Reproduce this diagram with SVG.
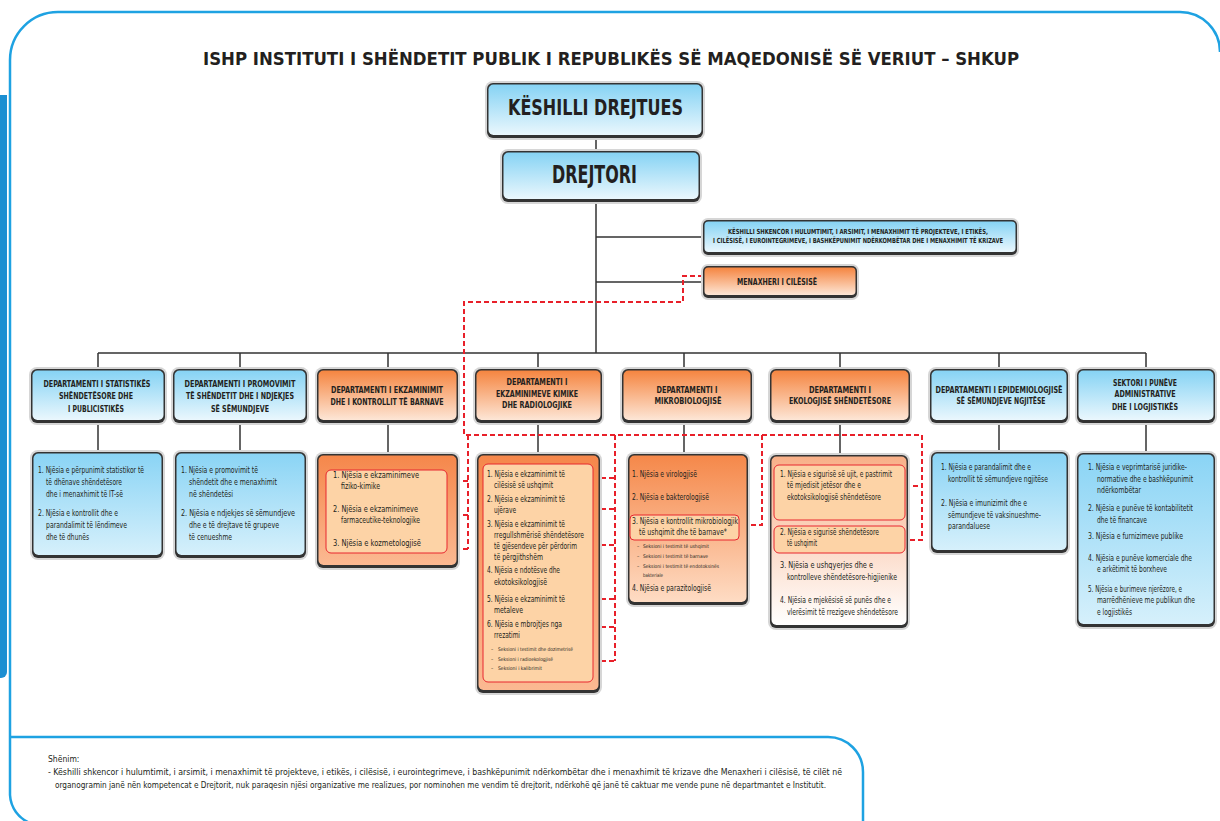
<svg xmlns="http://www.w3.org/2000/svg" width="1220" height="821" viewBox="0 0 1220 821">
<defs>
<linearGradient id="gB" x1="0" y1="0" x2="0" y2="1"><stop offset="0" stop-color="#86d3f4"/><stop offset="1" stop-color="#eaf7fd"/></linearGradient>
<linearGradient id="gBs" x1="0" y1="0" x2="0" y2="1"><stop offset="0" stop-color="#8ad4f5"/><stop offset="1" stop-color="#d6f0fb"/></linearGradient>
<linearGradient id="gO" x1="0" y1="0" x2="0" y2="1"><stop offset="0" stop-color="#f58540"/><stop offset="1" stop-color="#fde6d6"/></linearGradient>
<linearGradient id="gO2" x1="0" y1="0" x2="0" y2="1"><stop offset="0" stop-color="#f5874b"/><stop offset="1" stop-color="#fbb992"/></linearGradient>
<linearGradient id="gO3" x1="0" y1="0" x2="0" y2="1"><stop offset="0" stop-color="#f5884a"/><stop offset="1" stop-color="#fedcc4"/></linearGradient>
<linearGradient id="gO4" x1="0" y1="0" x2="0" y2="1"><stop offset="0" stop-color="#f8b088"/><stop offset="1" stop-color="#ffffff"/></linearGradient>
</defs>
<style>
.t{font-family:"Liberation Sans Narrow","DejaVu Sans Condensed","Liberation Sans",sans-serif;fill:#231f20}
.b{font-weight:bold}
.h{font-size:9px;font-weight:bold;text-anchor:middle}
.s{font-size:8.5px}
.x{font-size:5px}
.n{font-size:8.5px}
.glow{fill:#d6d6d6}
.dk{fill:#333}
.in{fill:#fdd3a6;stroke:#e8262f;stroke-width:1}
.ln{stroke:#333;stroke-width:1.5;fill:none}
.rd{stroke:#e8202a;stroke-width:2;fill:none;stroke-dasharray:5 3}
.fr{stroke:#1ea2e2;stroke-width:2.5;fill:none}
</style>
<rect width="1220" height="821" fill="#fff"/>
<g id="frame">
<path class="fr" d="M10,795 V60 A48,48 0 0 1 58,12 H1180 A40,40 0 0 1 1220,52"/>
<path class="fr" d="M10,795 A32,32 0 0 0 30,823"/>
<path class="fr" d="M10,737 H828 A35,35 0 0 1 863,772 V823"/>
<path d="M0,95 H7 V672 A6,6 0 0 1 1,678 H0 Z" fill="#1b8fd2"/>
</g>
<text class="t b" x="203" y="65" font-size="17" textLength="816" lengthAdjust="spacingAndGlyphs">ISHP INSTITUTI I SHËNDETIT PUBLIK I REPUBLIKËS SË MAQEDONISË SË VERIUT – SHKUP</text>

<g id="connectors">
<path class="ln" d="M596,138 V151 M596,202 V353 M596,237 H703 M596,282 H703 M98,353 H1146"/>
<path class="ln" d="M98,353 V369 M240,353 V369 M388,353 V370 M538,353 V370 M684,353 V370 M840,353 V370 M999,353 V370 M1146,353 V370"/>
<path class="ln" d="M98,423 V452 M240,423 V452 M388,423 V454 M538,423 V454 M684,423 V454 M840,423 V455 M999,423 V452 M1146,423 V453"/>
<path class="rd" d="M703,276 H683 V302 H464 V435 H922 V540 H905"/>
<path class="rd" d="M905,486 H922 M762,435 V525 H739 M615,435 V661"/>
<path class="rd" d="M593,478 H615 M593,509 H615 M593,545 H615 M593,599 H615 M593,627 H615 M593,661 H615"/>
<path class="rd" d="M468,435 V549 M447,481 H468 M447,515 H468 M447,549 H468"/>
</g>

<g id="keshilli-drejtues">
<rect class="glow" x="485" y="81" width="220" height="59" rx="8"/>
<rect class="dk" x="487" y="83" width="216" height="55" rx="6"/>
<rect fill="url(#gB)" x="488.5" y="84.5" width="213" height="50.5" rx="5"/>
<text class="t b" x="508" y="115" font-size="21" textLength="175" lengthAdjust="spacingAndGlyphs">KËSHILLI DREJTUES</text>
</g>
<g id="drejtori">
<rect class="glow" x="500" y="149" width="202" height="55" rx="8"/>
<rect class="dk" x="502" y="151" width="198" height="51" rx="6"/>
<rect fill="url(#gB)" x="503.5" y="152.5" width="195" height="46.5" rx="5"/>
<text class="t b" x="552" y="183" font-size="24" textLength="85" lengthAdjust="spacingAndGlyphs">DREJTORI</text>
</g>
<g id="keshilli-shkencor">
<rect class="glow" x="701" y="218" width="318" height="39" rx="7"/>
<rect class="dk" x="703" y="220" width="314" height="35" rx="5"/>
<rect fill="url(#gB)" x="704.5" y="221.5" width="311" height="30.5" rx="4"/>
<text class="t b" x="728" y="234" font-size="7" textLength="260" lengthAdjust="spacingAndGlyphs">KËSHILLI SHKENCOR I HULUMTIMIT, I ARSIMIT, I MENAXHIMIT TË PROJEKTEVE, I ETIKËS,</text>
<text class="t b" x="713" y="243" font-size="7" textLength="290" lengthAdjust="spacingAndGlyphs">I CILËSISË, I EUROINTEGRIMEVE, I BASHKËPUNIMIT NDËRKOMBËTAR DHE I MENAXHIMIT TË KRIZAVE</text>
</g>
<g id="menaxheri">
<rect class="glow" x="701" y="264" width="158" height="36" rx="7"/>
<rect class="dk" x="703" y="266" width="154" height="32" rx="5"/>
<rect fill="url(#gO)" x="704.5" y="267.5" width="151" height="27.5" rx="4"/>
<text class="t b" x="737" y="285" font-size="8.5" textLength="80" lengthAdjust="spacingAndGlyphs">MENAXHERI I CILËSISË</text>
</g>

<g id="dept1">
<rect class="glow" x="29" y="367" width="138" height="58" rx="8"/>
<rect class="dk" x="31" y="369" width="134" height="54" rx="6"/>
<rect fill="url(#gB)" x="32.5" y="370.5" width="131" height="49.5" rx="5"/>
<text class="t h" x="97" y="387" textLength="107" lengthAdjust="spacingAndGlyphs">DEPARTAMENTI I STATISTIKËS</text>
<text class="t h" x="96" y="399" textLength="74" lengthAdjust="spacingAndGlyphs">SHËNDETËSORE DHE</text>
<text class="t h" x="96" y="412" textLength="56" lengthAdjust="spacingAndGlyphs">I PUBLICISTIKËS</text>
</g>
<g id="dept1-units">
<rect class="glow" x="30" y="450" width="135" height="110" rx="8"/>
<rect class="dk" x="32" y="452" width="131" height="106" rx="6"/>
<rect fill="url(#gBs)" x="33.5" y="453.5" width="128" height="101.5" rx="5"/>
<text class="t s" x="38" y="473" textLength="106" lengthAdjust="spacingAndGlyphs">1. Njësia e përpunimit statistikor të</text>
<text class="t s" x="46" y="485" textLength="76" lengthAdjust="spacingAndGlyphs">të dhënave shëndetësore</text>
<text class="t s" x="46" y="497" textLength="77" lengthAdjust="spacingAndGlyphs">dhe i menaxhimit të IT-së</text>
<text class="t s" x="38" y="516" textLength="80" lengthAdjust="spacingAndGlyphs">2. Njësia e kontrollit dhe e</text>
<text class="t s" x="46" y="528" textLength="81" lengthAdjust="spacingAndGlyphs">parandalimit të lëndimeve</text>
<text class="t s" x="46" y="540" textLength="43" lengthAdjust="spacingAndGlyphs">dhe të dhunës</text>
</g>

<g id="dept2">
<rect class="glow" x="171" y="367" width="138" height="58" rx="8"/>
<rect class="dk" x="173" y="369" width="134" height="54" rx="6"/>
<rect fill="url(#gB)" x="174.5" y="370.5" width="131" height="49.5" rx="5"/>
<text class="t h" x="240" y="387" textLength="111" lengthAdjust="spacingAndGlyphs">DEPARTAMENTI I PROMOVIMIT</text>
<text class="t h" x="240" y="399" textLength="108" lengthAdjust="spacingAndGlyphs">TË SHËNDETIT DHE I NDJEKJES</text>
<text class="t h" x="240" y="412" textLength="58" lengthAdjust="spacingAndGlyphs">SË SËMUNDJEVE</text>
</g>
<g id="dept2-units">
<rect class="glow" x="173" y="450" width="135" height="110" rx="8"/>
<rect class="dk" x="175" y="452" width="131" height="106" rx="6"/>
<rect fill="url(#gBs)" x="176.5" y="453.5" width="128" height="101.5" rx="5"/>
<text class="t s" x="181" y="473" textLength="77" lengthAdjust="spacingAndGlyphs">1. Njësia e promovimit të</text>
<text class="t s" x="189" y="485" textLength="88" lengthAdjust="spacingAndGlyphs">shëndetit dhe e menaxhimit</text>
<text class="t s" x="189" y="497" textLength="44" lengthAdjust="spacingAndGlyphs">në shëndetësi</text>
<text class="t s" x="181" y="516" textLength="114" lengthAdjust="spacingAndGlyphs">2. Njësia e ndjekjes së sëmundjeve</text>
<text class="t s" x="189" y="528" textLength="90" lengthAdjust="spacingAndGlyphs">dhe e të drejtave të grupeve</text>
<text class="t s" x="189" y="540" textLength="43" lengthAdjust="spacingAndGlyphs">të cenueshme</text>
</g>

<g id="dept3">
<rect class="glow" x="315" y="367" width="145" height="58" rx="8"/>
<rect class="dk" x="317" y="369" width="141" height="54" rx="6"/>
<rect fill="url(#gO)" x="318.5" y="370.5" width="138" height="49.5" rx="5"/>
<text class="t h" x="387" y="393" textLength="112" lengthAdjust="spacingAndGlyphs">DEPARTAMENTI I EKZAMINIMIT</text>
<text class="t h" x="387" y="405" textLength="113" lengthAdjust="spacingAndGlyphs">DHE I KONTROLLIT TË BARNAVE</text>
</g>
<g id="dept3-units">
<rect class="glow" x="315" y="452" width="145" height="118" rx="8"/>
<rect class="dk" x="317" y="454" width="141" height="114" rx="6"/>
<rect fill="url(#gO2)" x="318.5" y="455.5" width="138" height="109.5" rx="5"/>
<rect class="in" x="326" y="470" width="121" height="83" rx="5"/>
<text class="t s" x="333" y="478" textLength="86" lengthAdjust="spacingAndGlyphs">1. Njësia e ekzaminimeve</text>
<text class="t s" x="341" y="489" textLength="39" lengthAdjust="spacingAndGlyphs">fiziko-kimike</text>
<text class="t s" x="333" y="512" textLength="85" lengthAdjust="spacingAndGlyphs">2. Njësia e ekzaminimeve</text>
<text class="t s" x="341" y="523" textLength="79" lengthAdjust="spacingAndGlyphs">farmaceutike-teknologjike</text>
<text class="t s" x="333" y="546" textLength="88" lengthAdjust="spacingAndGlyphs">3. Njësia e kozmetologjisë</text>
</g>

<g id="dept4">
<rect class="glow" x="473" y="367" width="131" height="58" rx="8"/>
<rect class="dk" x="475" y="369" width="127" height="54" rx="6"/>
<rect fill="url(#gO)" x="476.5" y="370.5" width="124" height="49.5" rx="5"/>
<text class="t h" x="537" y="385" textLength="61" lengthAdjust="spacingAndGlyphs">DEPARTAMENTI I</text>
<text class="t h" x="537" y="397" textLength="82" lengthAdjust="spacingAndGlyphs">EKZAMINIMEVE KIMIKE</text>
<text class="t h" x="537" y="408" textLength="70" lengthAdjust="spacingAndGlyphs">DHE RADIOLOGJIKE</text>
</g>
<g id="dept4-units">
<rect class="glow" x="475" y="452" width="127" height="243" rx="8"/>
<rect class="dk" x="477" y="454" width="123" height="239" rx="6"/>
<rect fill="url(#gO2)" x="478.5" y="455.5" width="120" height="234.5" rx="5"/>
<rect class="in" x="483" y="464" width="110" height="218" rx="5"/>
<text class="t s" x="487" y="477" textLength="78" lengthAdjust="spacingAndGlyphs">1. Njësia e ekzaminimit të</text>
<text class="t s" x="494" y="488" textLength="59" lengthAdjust="spacingAndGlyphs">cilësisë së ushqimit</text>
<text class="t s" x="487" y="502" textLength="78" lengthAdjust="spacingAndGlyphs">2. Njësia e ekzaminimit të</text>
<text class="t s" x="494" y="513" textLength="22" lengthAdjust="spacingAndGlyphs">ujërave</text>
<text class="t s" x="487" y="527" textLength="78" lengthAdjust="spacingAndGlyphs">3. Njësia e ekzaminimit të</text>
<text class="t s" x="494" y="538" textLength="90" lengthAdjust="spacingAndGlyphs">rregullshmërisë shëndetësore</text>
<text class="t s" x="494" y="549" textLength="83" lengthAdjust="spacingAndGlyphs">të gjësendeve për përdorim</text>
<text class="t s" x="494" y="560" textLength="49" lengthAdjust="spacingAndGlyphs">të përgjithshëm</text>
<text class="t s" x="487" y="573" textLength="73" lengthAdjust="spacingAndGlyphs">4. Njësia e ndotësve dhe</text>
<text class="t s" x="494" y="585" textLength="53" lengthAdjust="spacingAndGlyphs">ekotoksikologjisë</text>
<text class="t s" x="487" y="602" textLength="78" lengthAdjust="spacingAndGlyphs">5. Njësia e ekzaminimit të</text>
<text class="t s" x="494" y="613" textLength="29" lengthAdjust="spacingAndGlyphs">metaleve</text>
<text class="t s" x="487" y="627" textLength="75" lengthAdjust="spacingAndGlyphs">6. Njësia e mbrojtjes nga</text>
<text class="t s" x="494" y="638" textLength="26" lengthAdjust="spacingAndGlyphs">rrezatimi</text>
<text class="t x" x="491" y="651">–</text>
<text class="t x" x="498" y="651" textLength="75" lengthAdjust="spacingAndGlyphs">Seksioni i testimit dhe dozimetrisë</text>
<text class="t x" x="491" y="661">–</text>
<text class="t x" x="498" y="661" textLength="55" lengthAdjust="spacingAndGlyphs">Seksioni i radioekologjisë</text>
<text class="t x" x="491" y="670">–</text>
<text class="t x" x="498" y="670" textLength="44" lengthAdjust="spacingAndGlyphs">Seksioni i kalibrimit</text>
</g>

<g id="dept5">
<rect class="glow" x="620" y="367" width="134" height="58" rx="8"/>
<rect class="dk" x="622" y="369" width="130" height="54" rx="6"/>
<rect fill="url(#gO)" x="623.5" y="370.5" width="127" height="49.5" rx="5"/>
<text class="t h" x="687" y="393" textLength="61" lengthAdjust="spacingAndGlyphs">DEPARTAMENTI I</text>
<text class="t h" x="688" y="404" textLength="67" lengthAdjust="spacingAndGlyphs">MIKROBIOLOGJISË</text>
</g>
<g id="dept5-units">
<rect class="glow" x="626" y="452" width="124" height="155" rx="8"/>
<rect class="dk" x="628" y="454" width="120" height="151" rx="6"/>
<rect fill="url(#gO3)" x="629.5" y="455.5" width="117" height="146.5" rx="5"/>
<rect class="in" x="630" y="515" width="109" height="25" rx="4"/>
<text class="t s" x="632" y="477" textLength="65" lengthAdjust="spacingAndGlyphs">1. Njësia e virologjisë</text>
<text class="t s" x="632" y="500" textLength="77" lengthAdjust="spacingAndGlyphs">2. Njësia e bakterologjisë</text>
<text class="t s" x="632" y="524" textLength="106" lengthAdjust="spacingAndGlyphs">3. Njësia e kontrollit mikrobiologjik</text>
<text class="t s" x="639" y="535" textLength="88" lengthAdjust="spacingAndGlyphs">të ushqimit dhe të barnave*</text>
<text class="t x" x="637" y="548">–</text>
<text class="t x" x="643" y="548" textLength="66" lengthAdjust="spacingAndGlyphs">Seksioni i testimit të ushqimit</text>
<text class="t x" x="637" y="558">–</text>
<text class="t x" x="643" y="558" textLength="65" lengthAdjust="spacingAndGlyphs">Seksioni i testimit të barnave</text>
<text class="t x" x="637" y="568">–</text>
<text class="t x" x="643" y="568" textLength="76" lengthAdjust="spacingAndGlyphs">Seksioni i testimit të endotoksinës</text>
<text class="t x" x="643" y="577" textLength="20" lengthAdjust="spacingAndGlyphs">bakteriale</text>
<text class="t s" x="632" y="591" textLength="79" lengthAdjust="spacingAndGlyphs">4. Njësia e parazitologjisë</text>
</g>

<g id="dept6">
<rect class="glow" x="768" y="367" width="144" height="58" rx="8"/>
<rect class="dk" x="770" y="369" width="140" height="54" rx="6"/>
<rect fill="url(#gO)" x="771.5" y="370.5" width="137" height="49.5" rx="5"/>
<text class="t h" x="840" y="393" textLength="62" lengthAdjust="spacingAndGlyphs">DEPARTAMENTI I</text>
<text class="t h" x="840" y="404" textLength="102" lengthAdjust="spacingAndGlyphs">EKOLOGJISË SHËNDETËSORE</text>
</g>
<g id="dept6-units">
<rect class="glow" x="768" y="453" width="142" height="177" rx="8"/>
<rect class="dk" x="770" y="455" width="138" height="173" rx="6"/>
<rect fill="url(#gO4)" x="771.5" y="456.5" width="135" height="168.5" rx="5"/>
<rect class="in" x="774" y="465" width="131" height="55" rx="5"/>
<rect class="in" x="774" y="526" width="131" height="27" rx="5"/>
<text class="t s" x="780" y="477" textLength="112" lengthAdjust="spacingAndGlyphs">1. Njësia e sigurisë së ujit, e pastrimit</text>
<text class="t s" x="787" y="488" textLength="74" lengthAdjust="spacingAndGlyphs">të mjedisit jetësor dhe e</text>
<text class="t s" x="787" y="500" textLength="94" lengthAdjust="spacingAndGlyphs">ekotoksikologjisë shëndetësore</text>
<text class="t s" x="780" y="535" textLength="99" lengthAdjust="spacingAndGlyphs">2. Njësia e sigurisë shëndetësore</text>
<text class="t s" x="787" y="546" textLength="30" lengthAdjust="spacingAndGlyphs">të ushqimit</text>
<text class="t s" x="780" y="568" textLength="93" lengthAdjust="spacingAndGlyphs">3. Njësia e ushqyerjes dhe e</text>
<text class="t s" x="787" y="580" textLength="110" lengthAdjust="spacingAndGlyphs">kontrolleve shëndetësore-higjienike</text>
<text class="t s" x="780" y="603" textLength="111" lengthAdjust="spacingAndGlyphs">4. Njësia e mjekësisë së punës dhe e</text>
<text class="t s" x="787" y="615" textLength="111" lengthAdjust="spacingAndGlyphs">vlerësimit të rrezigeve shëndetësore</text>
</g>

<g id="dept7">
<rect class="glow" x="928" y="367" width="142" height="58" rx="8"/>
<rect class="dk" x="930" y="369" width="138" height="54" rx="6"/>
<rect fill="url(#gB)" x="931.5" y="370.5" width="135" height="49.5" rx="5"/>
<text class="t h" x="999" y="393" textLength="127" lengthAdjust="spacingAndGlyphs">DEPARTAMENTI I EPIDEMIOLOGJISË</text>
<text class="t h" x="1001" y="404" textLength="89" lengthAdjust="spacingAndGlyphs">SË SËMUNDJEVE NGJITËSE</text>
</g>
<g id="dept7-units">
<rect class="glow" x="929" y="450" width="141" height="105" rx="8"/>
<rect class="dk" x="931" y="452" width="137" height="101" rx="6"/>
<rect fill="url(#gBs)" x="932.5" y="453.5" width="134" height="96.5" rx="5"/>
<text class="t s" x="941" y="470" textLength="90" lengthAdjust="spacingAndGlyphs">1. Njësia e parandalimit dhe e</text>
<text class="t s" x="948" y="482" textLength="100" lengthAdjust="spacingAndGlyphs">kontrollit të sëmundjeve ngjitëse</text>
<text class="t s" x="941" y="506" textLength="86" lengthAdjust="spacingAndGlyphs">2. Njësia e imunizimit dhe e</text>
<text class="t s" x="948" y="518" textLength="93" lengthAdjust="spacingAndGlyphs">sëmundjeve të vaksinueshme-</text>
<text class="t s" x="948" y="529" textLength="42" lengthAdjust="spacingAndGlyphs">parandaluese</text>
</g>

<g id="dept8">
<rect class="glow" x="1075" y="367" width="142" height="58" rx="8"/>
<rect class="dk" x="1077" y="369" width="138" height="54" rx="6"/>
<rect fill="url(#gB)" x="1078.5" y="370.5" width="135" height="49.5" rx="5"/>
<text class="t h" x="1145" y="386" textLength="64" lengthAdjust="spacingAndGlyphs">SEKTORI I PUNËVE</text>
<text class="t h" x="1145" y="397" textLength="61" lengthAdjust="spacingAndGlyphs">ADMINISTRATIVE</text>
<text class="t h" x="1145" y="410" textLength="66" lengthAdjust="spacingAndGlyphs">DHE I LOGJISTIKËS</text>
</g>
<g id="dept8-units">
<rect class="glow" x="1075" y="451" width="142" height="178" rx="8"/>
<rect class="dk" x="1077" y="453" width="138" height="174" rx="6"/>
<rect fill="url(#gBs)" x="1078.5" y="454.5" width="135" height="169.5" rx="5"/>
<text class="t s" x="1088" y="470" textLength="99" lengthAdjust="spacingAndGlyphs">1. Njësia e veprimtarisë juridike-</text>
<text class="t s" x="1097" y="482" textLength="96" lengthAdjust="spacingAndGlyphs">normative dhe e bashkëpunimit</text>
<text class="t s" x="1097" y="493" textLength="44" lengthAdjust="spacingAndGlyphs">ndërkombëtar</text>
<text class="t s" x="1088" y="511" textLength="105" lengthAdjust="spacingAndGlyphs">2. Njësia e punëve të kontabilitetit</text>
<text class="t s" x="1097" y="523" textLength="50" lengthAdjust="spacingAndGlyphs">dhe të financave</text>
<text class="t s" x="1088" y="539" textLength="95" lengthAdjust="spacingAndGlyphs">3. Njësia e furnizimeve publike</text>
<text class="t s" x="1088" y="561" textLength="104" lengthAdjust="spacingAndGlyphs">4. Njësia e punëve komerciale dhe</text>
<text class="t s" x="1097" y="572" textLength="70" lengthAdjust="spacingAndGlyphs">e arkëtimit të borxheve</text>
<text class="t s" x="1088" y="592" textLength="94" lengthAdjust="spacingAndGlyphs">5. Njësia e burimeve njerëzore, e</text>
<text class="t s" x="1097" y="603" textLength="98" lengthAdjust="spacingAndGlyphs">marrëdhënieve me publikun dhe</text>
<text class="t s" x="1097" y="615" textLength="35" lengthAdjust="spacingAndGlyphs">e logjistikës</text>
</g>

<g id="note">
<text class="t n" x="48" y="762">Shënim:</text>
<text class="t n" x="48" y="775" textLength="794" lengthAdjust="spacingAndGlyphs">- Këshilli shkencor i hulumtimit, i arsimit, i menaxhimit të projekteve, i etikës, i cilësisë, i eurointegrimeve, i bashkëpunimit ndërkombëtar dhe i menaxhimit të krizave dhe Menaxheri i cilësisë, të cilët në</text>
<text class="t n" x="55" y="788" textLength="771" lengthAdjust="spacingAndGlyphs">organogramin janë nën kompetencat e Drejtorit, nuk paraqesin njësi organizative me realizues, por nominohen me vendim të drejtorit, ndërkohë që janë të caktuar me vende pune në departmantet e Institutit.</text>
</g>
</svg>
